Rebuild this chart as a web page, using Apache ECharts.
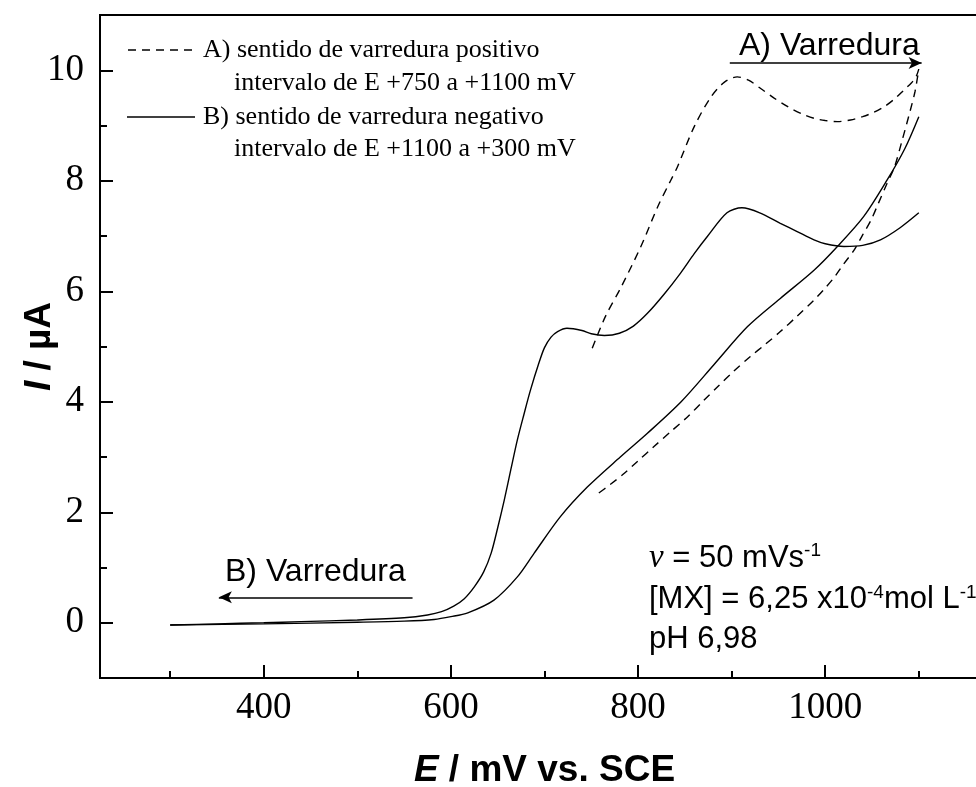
<!DOCTYPE html>
<html>
<head>
<meta charset="utf-8">
<script src="https://cdn.jsdelivr.net/npm/echarts@6/dist/echarts.min.js"></script>
<style>
html, body { margin: 0; padding: 0; background: #fff; }
#chart { width: 976px; height: 787px; }
</style>
</head>
<body>
<div id="chart"></div>
<script>
// A) positive sweep 750 -> 1100 mV and back (dashed)
const scanAE = [751, 765, 782, 803, 821, 835, 842, 860, 878, 892, 906, 918, 931, 945, 960, 975, 988, 1000, 1013, 1027, 1040, 1052, 1063, 1074, 1084, 1092, 1097, 1100,
                1096, 1091, 1082, 1074, 1066, 1057, 1049, 1040, 1031, 1020, 1010, 999, 988, 970, 952, 936, 920, 902, 885, 870, 853, 835, 817, 800, 785, 770, 755];
const scanAI = [4.97, 5.54, 6.08, 6.81, 7.53, 8.01, 8.25, 8.98, 9.52, 9.78, 9.88, 9.82, 9.67, 9.50, 9.34, 9.21, 9.13, 9.09, 9.07, 9.10, 9.16, 9.24, 9.34, 9.48, 9.64, 9.77, 9.88, 10.02,
                9.62, 9.28, 8.72, 8.25, 7.95, 7.60, 7.29, 7.02, 6.75, 6.50, 6.26, 6.04, 5.84, 5.55, 5.27, 5.04, 4.82, 4.55, 4.27, 4.02, 3.73, 3.46, 3.19, 2.93, 2.70, 2.50, 2.31];

// B) negative sweep 1100 -> 300 mV, first curve (with peaks)
const scanB1E = [1100, 1080, 1059, 1040, 1020, 1000, 988, 970, 952, 930, 911, 895, 874, 860, 845, 828, 810, 795, 780, 764, 750, 740, 724, 714, 707, 700, 694, 685, 678, 671, 664, 657, 650, 643, 635, 625, 614, 603, 590, 575, 550, 500, 440, 400, 350, 300];
const scanB1I = [7.42, 7.15, 6.93, 6.83, 6.81, 6.86, 6.93, 7.08, 7.23, 7.42, 7.51, 7.42, 6.99, 6.68, 6.32, 5.95, 5.60, 5.37, 5.24, 5.20, 5.23, 5.29, 5.33, 5.27, 5.17, 4.98, 4.70, 4.21, 3.77, 3.31, 2.77, 2.22, 1.72, 1.26, 0.92, 0.65, 0.43, 0.30, 0.20, 0.14, 0.09, 0.05, 0.02, 0.00, -0.02, -0.04];

// B) negative sweep 1100 -> 300 mV, second curve
const scanB2E = [1100, 1085, 1066, 1041, 1013, 988, 952, 917, 881, 846, 810, 781, 746, 717, 689, 671, 646, 618, 600, 582, 550, 500, 400, 300];
const scanB2I = [9.16, 8.58, 8.01, 7.35, 6.81, 6.38, 5.87, 5.36, 4.67, 4.00, 3.43, 3.00, 2.46, 1.92, 1.26, 0.83, 0.41, 0.18, 0.11, 0.06, 0.03, 0.01, -0.02, -0.04];

// axis ticks
const xMajor = [400, 600, 800, 1000];
const xMinor = [300, 500, 700, 900, 1100];
const yMajor = [0, 2, 4, 6, 8, 10];
const yMinor = [1, 3, 5, 7, 9];

const pair = (xs, ys) => xs.map((x, i) => [x, ys[i]]);

const chart = echarts.init(document.getElementById('chart'));
const black = '#000';
const serif = '"Liberation Serif", "Times New Roman", serif';
const sans = '"Liberation Sans", Arial, sans-serif';

chart.setOption({
    animation: false,
    grid: {
        left: 100, top: 15, right: -13, bottom: 109,
        containLabel: false, outerBoundsMode: 'none',
        show: true, borderColor: black, borderWidth: 2
    },
    xAxis: [{
        type: 'value', min: 225, max: 1175, position: 'bottom',
        axisLine: { show: true, onZero: false, lineStyle: { color: black, width: 2 } },
        axisTick: { inside: true, length: 13, customValues: xMajor, lineStyle: { color: black, width: 2 } },
        axisLabel: { customValues: xMajor, margin: 12, color: black, fontFamily: serif, fontSize: 37, formatter: v => String(v) },
        splitLine: { show: false },
        name: '{i|E} / mV vs. SCE',
        nameLocation: 'middle', nameGap: 74, nameMoveOverlap: false,
        nameTextStyle: {
            color: black, fontFamily: sans, fontWeight: 'bold', fontSize: 37,
            rich: { i: { fontFamily: sans, fontWeight: 'bold', fontStyle: 'italic', fontSize: 37, color: black } }
        }
    }, {
        type: 'value', min: 225, max: 1175, position: 'bottom',
        axisLine: { show: false, onZero: false },
        axisTick: { inside: true, length: 7, customValues: xMinor, lineStyle: { color: black, width: 2 } },
        axisLabel: { show: false },
        splitLine: { show: false }
    }],
    yAxis: [{
        type: 'value', min: -1, max: 11, position: 'left',
        axisLine: { show: true, onZero: false, lineStyle: { color: black, width: 2 } },
        axisTick: { inside: true, length: 13, customValues: yMajor, lineStyle: { color: black, width: 2 } },
        axisLabel: { customValues: yMajor, margin: 16, color: black, fontFamily: serif, fontSize: 37 },
        splitLine: { show: false },
        name: '{i|I} / \u00b5A',
        nameLocation: 'middle', nameGap: 42, nameRotate: 90, nameMoveOverlap: false,
        nameTextStyle: {
            color: black, fontFamily: sans, fontWeight: 'bold', fontSize: 37,
            rich: { i: { fontFamily: sans, fontWeight: 'bold', fontStyle: 'italic', fontSize: 37, color: black } }
        }
    }, {
        type: 'value', min: -1, max: 11, position: 'left',
        axisLine: { show: false, onZero: false },
        axisTick: { inside: true, length: 7, customValues: yMinor, lineStyle: { color: black, width: 2 } },
        axisLabel: { show: false },
        splitLine: { show: false }
    }],
    series: [{
        name: 'A', type: 'line', data: pair(scanAE, scanAI),
        showSymbol: false, smooth: 0.3, silent: true,
        lineStyle: { color: black, width: 1.4, type: [8, 6] },
        markLine: {
            silent: true, symbol: ['none', 'arrow'], symbolSize: [9, 13], precision: 1,
            lineStyle: { color: black, width: 1.5, type: 'solid' },
            label: { show: false },
            data: [
                [{ coord: [898, 10.13] }, { coord: [1103, 10.13] }],
                [{ coord: [559, 0.46] }, { coord: [352, 0.46] }]
            ]
        }
    }, {
        name: 'B1', type: 'line', data: pair(scanB1E, scanB1I),
        showSymbol: false, smooth: 0.3, silent: true,
        lineStyle: { color: black, width: 1.4 }
    }, {
        name: 'B2', type: 'line', data: pair(scanB2E, scanB2I),
        showSymbol: false, smooth: 0.3, silent: true,
        lineStyle: { color: black, width: 1.4 }
    }],
    graphic: [
        // legend
        { type: 'line', shape: { x1: 128, y1: 50, x2: 195, y2: 50 }, style: { stroke: black, lineWidth: 1.4, lineDash: [8, 6] } },
        { type: 'text', style: { x: 203, y: 50, text: 'A) sentido de varredura positivo', fontFamily: serif, fontSize: 26, fill: black, verticalAlign: 'middle' } },
        { type: 'text', style: { x: 234, y: 83, text: 'intervalo de E +750 a +1100 mV', fontFamily: serif, fontSize: 26, fill: black, verticalAlign: 'middle' } },
        { type: 'line', shape: { x1: 127, y1: 117, x2: 195, y2: 117 }, style: { stroke: black, lineWidth: 1.4 } },
        { type: 'text', style: { x: 203, y: 117, text: 'B) sentido de varredura negativo', fontFamily: serif, fontSize: 26, fill: black, verticalAlign: 'middle' } },
        { type: 'text', style: { x: 234, y: 149, text: 'intervalo de E +1100 a +300 mV', fontFamily: serif, fontSize: 26, fill: black, verticalAlign: 'middle' } },
        // sweep labels
        { type: 'text', style: { x: 739, y: 46, text: 'A) Varredura', fontFamily: sans, fontSize: 32, fill: black, verticalAlign: 'middle' } },
        { type: 'text', style: { x: 225, y: 572, text: 'B) Varredura', fontFamily: sans, fontSize: 32, fill: black, verticalAlign: 'middle' } },
        // conditions
        {
            type: 'text', style: {
                x: 649, y: 558, text: '{nu|\u03bd} = 50 mVs{sup|-1}', fontFamily: sans, fontSize: 31, fill: black, verticalAlign: 'middle',
                rich: { nu: { fontFamily: serif, fontStyle: 'italic', fontSize: 33 }, sup: { fontSize: 19, verticalAlign: 'top' } }
            }
        },
        {
            type: 'text', style: {
                x: 649, y: 599, text: '[MX] = 6,25 x10{sup|-4}mol L{sup|-1}', fontFamily: sans, fontSize: 31, fill: black, verticalAlign: 'middle',
                rich: { sup: { fontSize: 19, verticalAlign: 'top' } }
            }
        },
        { type: 'text', style: { x: 649, y: 639, text: 'pH 6,98', fontFamily: sans, fontSize: 31, fill: black, verticalAlign: 'middle' } }
    ]
});
</script>
</body>
</html>
